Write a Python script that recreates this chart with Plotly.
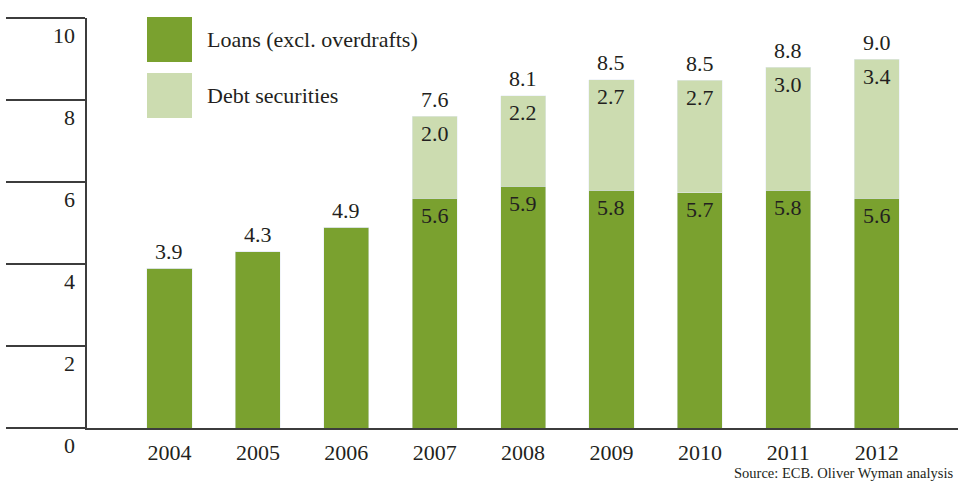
import plotly.graph_objects as go

# Data (2010 kept at two decimals so the rounded labels and the total agree)
years = ["2004", "2005", "2006", "2007", "2008", "2009", "2010", "2011", "2012"]
loans = [3.9, 4.3, 4.9, 5.6, 5.9, 5.8, 5.74, 5.8, 5.6]
debt = [0, 0, 0, 2.0, 2.2, 2.7, 2.74, 3.0, 3.4]
y_ticks = [0, 2, 4, 6, 8, 10]

DARK = "#7aa12f"
LIGHT = "#ccdcb0"
TEXT = "#231f20"
AXIS = "#3c3c3c"
FONT = "Liberation Serif"
FS = 22

W, H = 958, 482
L, R, T, B = 87, 0, 18, 54
PW, PH = W - L - R, H - T - B


def px_x(p):
    return (p - L) / PW


def px_y(p):
    return (H - B - p) / PH


xs = list(range(len(years)))

fig = go.Figure()
fig.add_bar(x=xs, y=loans, name="Loans (excl. overdrafts)", marker_color=DARK,
            width=0.51, showlegend=False)
fig.add_bar(x=xs, y=debt, name="Debt securities", marker_color=LIGHT,
            width=0.51, showlegend=False)

font = dict(size=FS, color=TEXT, family=FONT)
ann = []
for i, (l, d) in enumerate(zip(loans, debt)):
    top = l + d
    # total above each stack
    ann.append(dict(x=i, y=top, text=f"{top:.1f}", showarrow=False, yshift=17, font=font))
    if d > 0:
        ann.append(dict(x=i, y=top, text=f"{d:.1f}", showarrow=False, yshift=-17, font=font))
        ann.append(dict(x=i, y=l, text=f"{l:.1f}", showarrow=False, yshift=-17, font=font))

# y tick labels sit below their tick lines
for v in y_ticks:
    ann.append(dict(xref="paper", x=px_x(77), y=v, xanchor="right", text=str(v),
                    showarrow=False, yshift=-17, font=font))

# legend
shapes = []
legend = [("Loans (excl. overdrafts)", DARK, 17), ("Debt securities", LIGHT, 73)]
for label, col, top in legend:
    shapes.append(dict(type="rect", xref="paper", yref="paper",
                       x0=px_x(147), x1=px_x(192), y0=px_y(top + 45), y1=px_y(top),
                       fillcolor=col, line=dict(width=0)))
    ann.append(dict(xref="paper", yref="paper", x=px_x(205), y=px_y(top + 22.5),
                    xanchor="left", yanchor="middle", text=label, showarrow=False,
                    font=font))

ann.append(dict(xref="paper", yref="paper", x=px_x(955), y=px_y(482),
                xanchor="right", yanchor="bottom", borderpad=0,
                text="Source: ECB. Oliver Wyman analysis", showarrow=False,
                font=dict(size=14.5, color=TEXT, family=FONT)))

fig.update_layout(
    width=W, height=H, barmode="stack",
    margin=dict(l=L, r=R, t=T, b=B, autoexpand=False),
    plot_bgcolor="white", paper_bgcolor="white",
    annotations=ann, shapes=shapes,
    xaxis=dict(range=[-0.933, -0.933 + PW / 88.4], tickvals=xs, ticktext=years,
               showgrid=False, zeroline=False, showline=True, linecolor=AXIS,
               linewidth=2, ticks="", ticklabelstandoff=4, tickfont=font),
    yaxis=dict(range=[0, 10], tickvals=y_ticks, showticklabels=False,
               showgrid=False, zeroline=False, showline=True, linecolor=AXIS,
               linewidth=2, ticks="outside", ticklen=79, tickwidth=2,
               tickcolor=AXIS),
)

fig.write_html("out.html")
